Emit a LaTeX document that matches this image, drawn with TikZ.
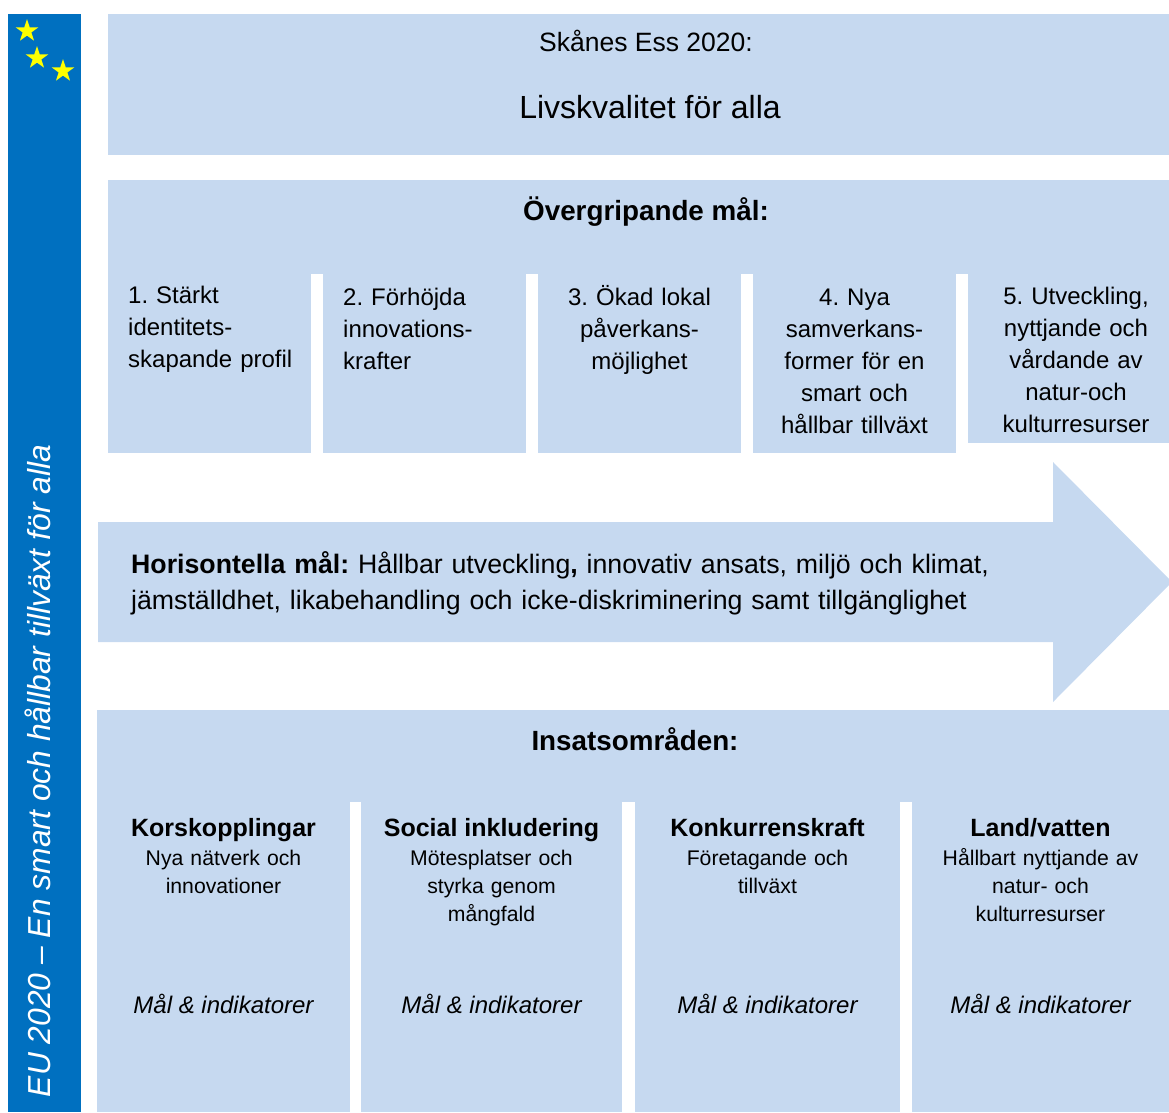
\documentclass[tikz,border=0pt]{standalone}
\usepackage{fontspec}
\setmainfont{Liberation Sans}
\usepackage{tikz}
\usetikzlibrary{shapes.geometric,positioning}
\definecolor{PanelBlue}{RGB}{198,217,240}
\definecolor{EuBlue}{RGB}{0,112,192}
\definecolor{StarYellow}{RGB}{255,255,0}
\frenchspacing

\begin{document}
\begin{tikzpicture}[x=1pt, y=-1pt,
    panel/.style={fill=PanelBlue, inner sep=0pt, outer sep=0pt, anchor=north west},
    goal/.style={font=\fontsize{24}{32}\selectfont, text width=190pt, inner sep=0pt, anchor=base},
    head/.style={font=\fontsize{27.8}{33}\selectfont\bfseries, inner sep=0pt, anchor=base},
    area/.style={font=\fontsize{25}{29}\selectfont\bfseries, inner sep=0pt, anchor=base},
    areasub/.style={font=\fontsize{21.2}{28}\selectfont, text width=240pt, align=center, inner sep=0pt, anchor=base},
    note/.style={font=\fontsize{24}{28}\selectfont\itshape, inner sep=0pt, anchor=base},
    eustar/.style={star, star points=5, star point ratio=2.6, fill=StarYellow, minimum size=24pt, inner sep=0pt}]

    \useasboundingbox (0,0) rectangle (1169,1112);

    %% EU bar
    \node at (8,14) [panel, fill=EuBlue, minimum width=73pt, minimum height=1098pt] (eu) {};
    \node at (27,31) [eustar] (star1) {};
    \node at (37,58) [eustar] (star2) {};
    \node at (63,71) [eustar] (star3) {};
    \node at (38,771) [rotate=90, text=white, inner sep=0pt, font=\fontsize{31.8}{38}\selectfont\itshape] (eutext) {EU 2020 – En smart och hållbar tillväxt för alla};

    %% Vision
    \node at (108,14) [panel, minimum width=1061pt, minimum height=141pt] (ess) {};
    \node at (646,51) [anchor=base, inner sep=0pt, font=\fontsize{26.5}{30}\selectfont] (esstitle) {Skånes Ess 2020:};
    \node at (650,118) [anchor=base, inner sep=0pt, font=\fontsize{32}{36}\selectfont] (vision) {Livskvalitet för alla};

    %% Overall goals
    \node at (108,180) [panel, minimum width=1061pt, minimum height=94pt] (goals) {};
    \node at (646,220) [head] (goalshead) {Övergripande mål:};
    \node at (108,273) [panel, minimum width=203pt, minimum height=180pt] (g1) {};
    \node at (g1.north east) [panel, xshift=12pt, minimum width=203pt, minimum height=180pt] (g2) {};
    \node at (g2.north east) [panel, xshift=12pt, minimum width=203pt, minimum height=180pt] (g3) {};
    \node at (g3.north east) [panel, xshift=12pt, minimum width=203pt, minimum height=180pt] (g4) {};
    \node at (g4.north east) [panel, xshift=12pt, minimum width=201pt, minimum height=170pt] (g5) {};
    \node at (g1.north west) [goal, anchor=base west, xshift=20pt, yshift=-30pt, align=left] (g1txt) {1. Stärkt\\identitets-\\skapande profil};
    \node at (g2.north west) [goal, anchor=base west, xshift=20pt, yshift=-32pt, align=left] (g2txt) {2. Förhöjda\\innovations-\\krafter};
    \node at (g3.north) [goal, yshift=-32pt, align=center] (g3txt) {3. Ökad lokal\\påverkans-\\möjlighet};
    \node at (g4.north) [goal, yshift=-32pt, align=center] (g4txt) {4. Nya\\samverkans-\\former för en\\smart och\\hållbar tillväxt};
    \node at (g5.north) [goal, xshift=7.5pt, yshift=-31pt, align=center] (g5txt) {5. Utveckling,\\nyttjande och\\vårdande av\\natur-och\\kulturresurser};

    %% Horizontal goals
    \fill [PanelBlue] (98,522) -- (1053,522) -- (1053,462) -- (1172,582) -- (1053,702) -- (1053,642) -- (98,642) -- cycle;
    \node at (131,573) [anchor=base west, text width=900pt, align=left, inner sep=0pt, font=\fontsize{26.7}{36}\selectfont] (horiz) {\textbf{Horisontella mål:} Hållbar utveckling\textbf{,} innovativ ansats, miljö och klimat,\\jämställdhet, likabehandling och icke-diskriminering samt tillgänglighet};

    %% Action areas
    \node at (97,710) [panel, minimum width=1072pt, minimum height=92pt] (areas) {};
    \node at (635,750) [head] (areashead) {Insatsområden:};
    \node at (97,801) [panel, minimum width=253pt, minimum height=311pt] (a1) {};
    \node at (a1.north east) [panel, xshift=11pt, minimum width=261pt, minimum height=311pt] (a2) {};
    \node at (a2.north east) [panel, xshift=13pt, minimum width=265pt, minimum height=311pt] (a3) {};
    \node at (a3.north east) [panel, xshift=12pt, minimum width=257pt, minimum height=311pt] (a4) {};

    \node at (a1.north) [area, yshift=-35pt] (a1head) {Korskopplingar};
    \node at (a1head.base) [areasub, yshift=-29pt] (a1sub) {Nya nätverk och\\innovationer};
    \node at (a1.north) [note, yshift=-212pt] (a1note) {Mål \& indikatorer};

    \node at (a2.north) [area, yshift=-35pt] (a2head) {Social inkludering};
    \node at (a2head.base) [areasub, yshift=-29pt] (a2sub) {Mötesplatser och\\styrka genom\\mångfald};
    \node at (a2.north) [note, yshift=-212pt] (a2note) {Mål \& indikatorer};

    \node at (a3.north) [area, yshift=-35pt] (a3head) {Konkurrenskraft};
    \node at (a3head.base) [areasub, yshift=-29pt] (a3sub) {Företagande och\\tillväxt};
    \node at (a3.north) [note, yshift=-212pt] (a3note) {Mål \& indikatorer};

    \node at (a4.north) [area, yshift=-35pt] (a4head) {Land/vatten};
    \node at (a4head.base) [areasub, yshift=-29pt] (a4sub) {Hållbart nyttjande av\\natur- och\\kulturresurser};
    \node at (a4.north) [note, yshift=-212pt] (a4note) {Mål \& indikatorer};
\end{tikzpicture}
\end{document}
